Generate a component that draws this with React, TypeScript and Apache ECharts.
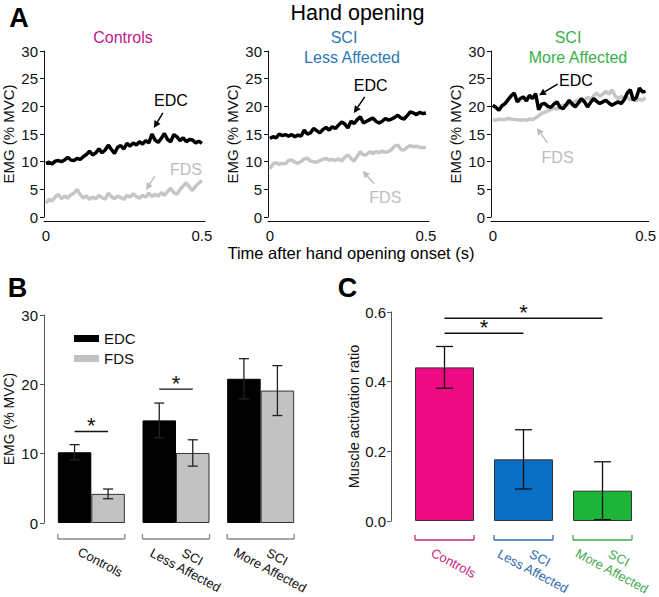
import React, { useEffect, useRef } from "react";
import * as echarts from "echarts";

const FONT = "'Liberation Sans', Arial, Helvetica, sans-serif";

// ---------- Panel A data (time in s, EMG in % MVC) ----------
const time: number[] = [];
for (let i = 0; i <= 50; i++) time.push(i / 100);

const controlsEDC = [
  9.7, 9.9, 9.6, 10.1, 10.2, 10.0, 10.3, 10.8, 10.3, 10.2,
  10.6, 10.4, 10.9, 11.3, 11.9, 11.2, 11.6, 12.3, 11.6, 12.1,
  13.0, 12.2, 11.5, 12.6, 12.9, 12.3, 13.3, 12.8, 13.4, 13.0,
  13.6, 13.2, 13.8, 13.4, 15.0, 13.9, 13.5, 14.2, 15.1, 14.0,
  13.6, 14.9, 14.5, 13.8, 14.3, 13.6, 14.0, 13.9, 13.4, 13.7, 13.3,
];
const controlsFDS = [
  2.5, 3.2, 2.9, 3.6, 4.1, 3.3, 3.8, 3.4, 4.0, 4.3,
  5.0, 4.1, 3.4, 3.8, 3.2, 3.6, 3.3, 3.9, 3.5, 3.2,
  4.3, 3.7, 3.3, 3.8, 3.5, 3.2, 3.9, 3.6, 4.2, 3.7,
  3.4, 3.9, 3.6, 4.3, 3.7, 4.1, 3.8, 4.4, 3.9, 4.6,
  5.2, 4.4, 4.1, 5.0, 5.6, 6.2, 5.4, 4.8, 5.6, 6.1, 6.6,
];
const lessEDC = [
  14.2, 14.5, 14.3, 15.0, 14.7, 14.9, 14.6, 14.9, 14.5, 14.8,
  14.6, 15.7, 15.0, 15.2, 16.0, 15.6, 15.2, 15.8, 16.2, 15.7,
  16.3, 16.0, 16.6, 17.2, 16.8, 16.1, 17.3, 16.9, 17.6, 18.1,
  17.0, 17.3, 17.6, 17.9, 17.3, 17.0, 17.3, 17.8, 17.5, 17.7,
  18.0, 18.4, 17.9, 17.7, 18.3, 19.0, 18.8, 18.5, 18.9, 18.7, 18.8,
];
const lessFDS = [
  8.7, 9.6, 9.8, 9.5, 9.7, 9.6, 10.2, 10.3, 9.9, 9.7,
  10.0, 10.5, 10.6, 10.1, 10.0, 9.9, 10.2, 10.4, 10.6, 10.3,
  10.4, 10.2, 10.5, 10.1, 10.8, 11.2, 10.6, 10.1, 11.0, 11.8,
  11.2, 11.3, 11.8, 11.5, 11.8, 11.6, 11.9, 11.7, 11.8, 12.2,
  12.8, 13.0, 12.2, 12.1, 12.6, 12.9, 12.7, 12.8, 12.6, 12.5, 12.6,
];
const moreEDC = [
  20.2, 19.8, 19.3, 20.1, 20.5, 21.2, 21.9, 22.4, 20.8, 21.4,
  21.7, 21.0, 22.0, 21.4, 22.3, 19.4, 20.4, 20.5, 20.0, 19.8,
  20.4, 20.8, 19.8, 19.6, 20.3, 21.1, 20.4, 19.9, 20.6, 21.4,
  20.8, 19.9, 20.7, 21.4, 20.9, 20.5, 20.8, 21.1, 20.6, 20.2,
  20.5, 20.8, 20.5, 21.2, 22.4, 23.0, 21.1, 21.6, 23.3, 22.6, 22.7,
];
const moreFDS = [
  17.6, 17.5, 17.7, 17.6, 17.6, 17.8, 17.7, 17.6, 17.6, 17.5,
  17.6, 17.5, 17.7, 17.6, 17.9, 18.3, 18.7, 18.9, 19.2, 19.4,
  19.7, 19.5, 19.9, 20.2, 20.0, 20.6, 20.4, 20.9, 21.1, 20.8,
  21.2, 21.6, 21.3, 21.9, 22.4, 21.8, 22.2, 22.7, 22.2, 23.0,
  21.9, 21.4, 21.8, 21.3, 21.6, 21.2, 21.5, 21.0, 21.3, 21.1, 21.6,
];
const traceEDC = [controlsEDC, lessEDC, moreEDC];
const traceFDS = [controlsFDS, lessFDS, moreFDS];
const timeTickLabels = [0, 0.5];

// ---------- Panel B data ----------
const groupLabels = ["Controls", "SCI\nLess Affected", "SCI\nMore Affected"];
const edcMean = [10.2, 14.8, 20.8];
const edcErr = [1.1, 2.5, 2.9];
const fdsMean = [4.2, 10.1, 19.1];
const fdsErr = [0.7, 1.9, 3.6];
const sigB = [
  { group: 0, y: 13.2 },
  { group: 1, y: 19.3 },
];

// ---------- Panel C data ----------
const ratioMean = [0.441, 0.177, 0.087];
const ratioErr = [0.06, 0.085, 0.083];
const sigC = [
  { from: 0, to: 2, y: 0.582 },
  { from: 0, to: 1, y: 0.539 },
];

// ---------- styles ----------
const EDC_COLOR = "#000000";
const FDS_LINE = "#C6C6C6";
const FDS_TEXT = "#BDBDBD";
const titleColors = ["#C0198C", "#2B78B4", "#3AAF4A"];
const barColorsC = ["#EE0A82", "#0A6FC4", "#1DB43A"];
const labelColorsC = ["#C8287F", "#2E6DAA", "#46A94F"];
const BAR_W_B = 33.5;
const BAR_W_C = 59;
const ROT = (-28 * Math.PI) / 180;

const annA = [
  [
    { text: "EDC", color: EDC_COLOR, t: [0.401, 21.1], from: [0.375, 18.8], to: [0.346, 16.1] },
    { text: "FDS", color: FDS_TEXT, t: [0.449, 8.5], from: [0.349, 7.4], to: [0.321, 4.9] },
  ],
  [
    { text: "EDC", color: EDC_COLOR, t: [0.323, 23.7], from: [0.304, 21.7], to: [0.269, 18.8] },
    { text: "FDS", color: FDS_TEXT, t: [0.37, 3.6], from: [0.335, 6.0], to: [0.297, 8.3] },
  ],
  [
    { text: "EDC", color: EDC_COLOR, t: [0.272, 24.6], from: [0.212, 24.0], to: [0.151, 22.0] },
    { text: "FDS", color: FDS_TEXT, t: [0.212, 10.8], from: [0.179, 13.4], to: [0.144, 16.1] },
  ],
];

function txt(x: number, y: number, text: string, fill: string, fontSize: number, extra: any = {}) {
  return {
    type: "text",
    x,
    y,
    style: {
      text,
      fill,
      fontSize,
      fontFamily: FONT,
      fontWeight: extra.fontWeight || "normal",
      align: "center",
      verticalAlign: "middle",
      textAlign: "center",
      textVerticalAlign: "middle",
      lineHeight: extra.lineHeight,
    },
    rotation: extra.rotation || 0,
    silent: true,
  };
}

function hline(x1: number, x2: number, y: number, stroke: string, lw = 1.3) {
  return { type: "line", shape: { x1, y1: y, x2, y2: y }, style: { stroke, lineWidth: lw } };
}
function vline(x: number, y1: number, y2: number, stroke: string, lw = 1.3) {
  return { type: "line", shape: { x1: x, y1, x2: x, y2 }, style: { stroke, lineWidth: lw } };
}

function errorBar(x: number, yHi: number, yLo: number, capW: number, color: string) {
  return [
    vline(x, yHi, yLo, color),
    hline(x - capW / 2, x + capW / 2, yHi, color),
    hline(x - capW / 2, x + capW / 2, yLo, color),
  ];
}

function bracket(x1: number, x2: number, y: number, color: string) {
  return [hline(x1, x2, y, color, 1.3), vline(x1, y, y - 5, color, 1.3), vline(x2, y, y - 5, color, 1.3)];
}

function catLabel(cx: number, by: number, label: string, color: string) {
  const lines = label.split("\n").length;
  const dx = lines > 1 ? 13 : 9;
  const dy = lines > 1 ? 24.5 : 23;
  return txt(cx + dx, by + dy, label, color, 13, { rotation: ROT, lineHeight: 15 });
}

function buildOption() {
  const gridsA = [44, 268, 491].map((left) => ({ left, top: 51, width: 161, height: 166 }));
  const grid = [
    ...gridsA,
    { left: 49, top: 315, width: 254, height: 208 },
    { left: 405, top: 312, width: 237, height: 209 },
  ];

  const xAxis: any[] = [];
  const yAxis: any[] = [];
  for (let i = 0; i < 3; i++) {
    xAxis.push({
      type: "value",
      gridIndex: i,
      min: -0.006,
      max: 0.51,
      offset: 4,
      axisLine: { show: true, onZero: false, lineStyle: { color: "#111", width: 1 } },
      axisTick: { show: false },
      splitLine: { show: false },
      axisLabel: {
        customValues: timeTickLabels,
        formatter: (v: number) => (v === 0 ? "0" : String(v)),
        fontSize: 15,
        fontFamily: FONT,
        color: "#111",
        margin: 7,
      },
    });
    yAxis.push({
      type: "value",
      gridIndex: i,
      min: 0,
      max: 30,
      interval: 5,
      axisLine: { show: true, onZero: false, lineStyle: { color: "#111", width: 1 } },
      axisTick: { show: true, length: 4, lineStyle: { color: "#111" } },
      splitLine: { show: false },
      axisLabel: { fontSize: 15, fontFamily: FONT, color: "#111", margin: 6 },
      name: "EMG (% MVC)",
      nameLocation: "middle",
      nameGap: 28,
      nameTextStyle: { fontSize: 15, fontFamily: FONT, color: "#111" },
    });
  }
  // Panel B axes
  xAxis.push({
    type: "category",
    gridIndex: 3,
    data: groupLabels,
    axisLine: { show: false },
    axisTick: { show: false },
    axisLabel: { show: false },
  });
  yAxis.push({
    type: "value",
    gridIndex: 3,
    min: 0,
    max: 30,
    interval: 10,
    offset: 5,
    axisLine: { show: true, onZero: false, lineStyle: { color: "#555", width: 1 } },
    axisTick: { show: true, length: 4, lineStyle: { color: "#555" } },
    splitLine: { show: false },
    axisLabel: { fontSize: 15, fontFamily: FONT, color: "#111", margin: 6 },
    name: "EMG (% MVC)",
    nameLocation: "middle",
    nameGap: 28,
    nameTextStyle: { fontSize: 14, fontFamily: FONT, color: "#111" },
  });
  // Panel C axes
  xAxis.push({
    type: "category",
    gridIndex: 4,
    data: groupLabels,
    axisLine: { show: false },
    axisTick: { show: false },
    axisLabel: { show: false },
  });
  yAxis.push({
    type: "value",
    gridIndex: 4,
    min: 0,
    max: 0.6,
    interval: 0.2,
    offset: 14,
    axisLine: { show: true, onZero: false, lineStyle: { color: "#555", width: 1 } },
    axisTick: { show: true, length: 4, lineStyle: { color: "#555" } },
    splitLine: { show: false },
    axisLabel: {
      fontSize: 15,
      fontFamily: FONT,
      color: "#111",
      margin: 5,
      formatter: (v: number) => v.toFixed(1),
    },
    name: "Muscle activation ratio",
    nameLocation: "middle",
    nameGap: 28,
    nameTextStyle: { fontSize: 14.5, fontFamily: FONT, color: "#111" },
  });

  const series: any[] = [];
  const traceNames = ["Controls", "SCI Less Affected", "SCI More Affected"];
  for (let i = 0; i < 3; i++) {
    series.push({
      type: "line",
      name: "FDS trace " + traceNames[i],
      xAxisIndex: i,
      yAxisIndex: i,
      data: time.map((t, j) => [t, traceFDS[i][j]]),
      showSymbol: false,
      silent: true,
      lineStyle: { color: FDS_LINE, width: 3.5 },
      z: 2,
    });
    series.push({
      type: "line",
      name: "EDC trace " + traceNames[i],
      xAxisIndex: i,
      yAxisIndex: i,
      data: time.map((t, j) => [t, traceEDC[i][j]]),
      showSymbol: false,
      silent: true,
      lineStyle: { color: EDC_COLOR, width: 3.5 },
      z: 3,
    });
    const ann = annA[i];
    series.push({
      type: "custom",
      name: "annotations " + i,
      xAxisIndex: i,
      yAxisIndex: i,
      clip: false,
      silent: true,
      z: 4,
      data: ann.map((a) => a.t),
      renderItem: (params: any, api: any) => {
        const a = ann[params.dataIndex];
        const p1 = api.coord(a.from);
        const p2 = api.coord(a.to);
        const pt = api.coord(a.t);
        const dx = p2[0] - p1[0];
        const dy = p2[1] - p1[1];
        const len = Math.hypot(dx, dy) || 1;
        const ux = dx / len;
        const uy = dy / len;
        const L = 7;
        const W = 3.5;
        const bx = p2[0] - ux * L;
        const by = p2[1] - uy * L;
        return {
          type: "group",
          children: [
            { type: "line", shape: { x1: p1[0], y1: p1[1], x2: bx, y2: by }, style: { stroke: a.color, lineWidth: 1.5 } },
            {
              type: "polygon",
              shape: { points: [[p2[0], p2[1]], [bx - uy * W, by + ux * W], [bx + uy * W, by - ux * W]] },
              style: { fill: a.color },
            },
            txt(pt[0], pt[1], a.text, a.color, 16),
          ],
        };
      },
    });
  }

  // Panel B bars
  series.push({
    type: "bar",
    name: "EDC",
    xAxisIndex: 3,
    yAxisIndex: 3,
    data: edcMean,
    barWidth: BAR_W_B,
    barGap: "0%",
    itemStyle: { color: "#000", borderColor: "#000", borderWidth: 1 },
    silent: true,
  });
  series.push({
    type: "bar",
    name: "FDS",
    xAxisIndex: 3,
    yAxisIndex: 3,
    data: fdsMean,
    barWidth: BAR_W_B,
    barGap: "0%",
    itemStyle: { color: "#C2C2C2", borderColor: "#333", borderWidth: 1 },
    silent: true,
  });
  series.push({
    type: "custom",
    name: "B errors",
    xAxisIndex: 3,
    yAxisIndex: 3,
    clip: false,
    silent: true,
    z: 5,
    data: groupLabels.map((_, j) => [j, 0]),
    renderItem: (params: any, api: any) => {
      const j = params.dataIndex;
      const c = api.coord([j, 0]);
      const children: any[] = [];
      const xE = c[0] - BAR_W_B / 2;
      const xF = c[0] + BAR_W_B / 2;
      children.push(
        ...errorBar(xE, api.coord([j, edcMean[j] + edcErr[j]])[1], api.coord([j, edcMean[j] - edcErr[j]])[1], 10, "#222")
      );
      children.push(
        ...errorBar(xF, api.coord([j, fdsMean[j] + fdsErr[j]])[1], api.coord([j, fdsMean[j] - fdsErr[j]])[1], 10, "#222")
      );
      const by = c[1] + 16;
      children.push(...bracket(c[0] - BAR_W_B, c[0] + BAR_W_B, by, "#8A8A8A"));
      children.push(catLabel(c[0], by, groupLabels[j], "#111"));
      return { type: "group", children };
    },
  });
  series.push({
    type: "custom",
    name: "B significance",
    xAxisIndex: 3,
    yAxisIndex: 3,
    clip: false,
    silent: true,
    z: 5,
    data: sigB.map((s) => [s.group, s.y]),
    renderItem: (params: any, api: any) => {
      const s = sigB[params.dataIndex];
      const c = api.coord([s.group, s.y]);
      return {
        type: "group",
        children: [
          hline(c[0] - BAR_W_B / 2, c[0] + BAR_W_B / 2, c[1], "#111", 1.3),
          txt(c[0], c[1] - 6, "*", "#111", 22),
        ],
      };
    },
  });

  // Panel C bars
  series.push({
    type: "bar",
    name: "Muscle activation ratio",
    xAxisIndex: 4,
    yAxisIndex: 4,
    data: ratioMean.map((v, j) => ({ value: v, itemStyle: { color: barColorsC[j] } })),
    barWidth: BAR_W_C,
    itemStyle: { borderColor: "#333", borderWidth: 1 },
    silent: true,
  });
  series.push({
    type: "custom",
    name: "C errors",
    xAxisIndex: 4,
    yAxisIndex: 4,
    clip: false,
    silent: true,
    z: 5,
    data: groupLabels.map((_, j) => [j, 0]),
    renderItem: (params: any, api: any) => {
      const j = params.dataIndex;
      const c = api.coord([j, 0]);
      const children: any[] = [];
      children.push(
        ...errorBar(c[0], api.coord([j, ratioMean[j] + ratioErr[j]])[1], api.coord([j, ratioMean[j] - ratioErr[j]])[1], 17, "#111")
      );
      const by = c[1] + 19;
      children.push(...bracket(c[0] - BAR_W_C / 2, c[0] + BAR_W_C / 2, by, labelColorsC[j]));
      children.push(catLabel(c[0], by, groupLabels[j], labelColorsC[j]));
      return { type: "group", children };
    },
  });
  series.push({
    type: "custom",
    name: "C significance",
    xAxisIndex: 4,
    yAxisIndex: 4,
    clip: false,
    silent: true,
    z: 5,
    data: sigC.map((s) => [s.from, s.y]),
    renderItem: (params: any, api: any) => {
      const s = sigC[params.dataIndex];
      const a = api.coord([s.from, s.y]);
      const b = api.coord([s.to, s.y]);
      return {
        type: "group",
        children: [hline(a[0], b[0], a[1], "#111", 1.3), txt((a[0] + b[0]) / 2, a[1] - 6, "*", "#111", 22)],
      };
    },
  });

  const graphic: any[] = [
    txt(19, 18, "A", "#000", 27, { fontWeight: "bold" }),
    txt(357.5, 12.5, "Hand opening", "#000", 21.5),
    txt(123, 37.5, "Controls", titleColors[0], 16),
    txt(344, 37.5, "SCI", titleColors[1], 16),
    txt(352, 57.5, "Less Affected", titleColors[1], 16),
    txt(568, 37.5, "SCI", titleColors[2], 16),
    txt(578, 57.5, "More Affected", titleColors[2], 16),
    txt(351, 253, "Time after hand opening onset (s)", "#000", 16.5),
    txt(17.5, 288, "B", "#000", 27, { fontWeight: "bold" }),
    txt(347.5, 287.5, "C", "#000", 27, { fontWeight: "bold" }),
  ];

  return {
    animation: false,
    backgroundColor: "#ffffff",
    textStyle: { fontFamily: FONT },
    grid,
    xAxis,
    yAxis,
    legend: {
      data: ["EDC", "FDS"],
      orient: "vertical",
      left: 69,
      top: 326,
      itemWidth: 25,
      itemHeight: 7,
      itemGap: 5,
      icon: "rect",
      selectedMode: false,
      itemStyle: { borderWidth: 0 },
      textStyle: { fontSize: 15, fontFamily: FONT, color: "#111" },
    },
    series,
    graphic,
  };
}

export default function App() {
  const ref = useRef<HTMLDivElement>(null);
  useEffect(() => {
    if (!ref.current) return;
    const chart = echarts.init(ref.current, undefined, { renderer: "svg" });
    chart.setOption(buildOption() as any);
    return () => chart.dispose();
  }, []);
  return (
    <div
      ref={ref}
      style={{ position: "fixed", left: 0, top: 0, width: 659, height: 597, background: "#fff" }}
    />
  );
}
